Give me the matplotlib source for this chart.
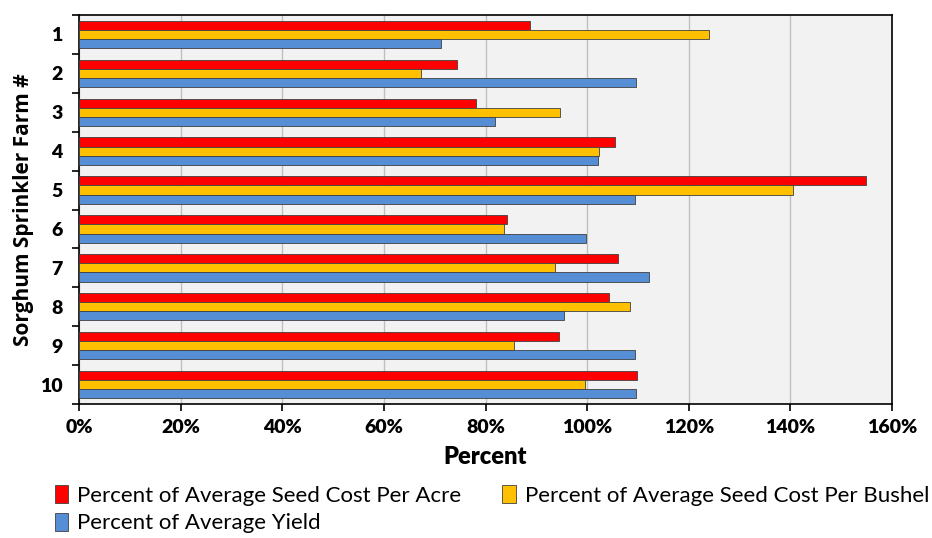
import matplotlib
matplotlib.use("Agg")
import matplotlib.pyplot as plt
import numpy as np
from matplotlib.ticker import FuncFormatter, FixedLocator

farms = ["1", "2", "3", "4", "5", "6", "7", "8", "9", "10"]
seed_cost_acre = [88.7, 74.4, 78.1, 105.4, 154.9, 84.2, 106.0, 104.4, 94.5, 109.8]
seed_cost_bushel = [123.9, 67.4, 94.7, 102.3, 140.6, 83.7, 93.7, 108.5, 85.6, 99.6]
avg_yield = [71.2, 109.6, 81.9, 102.1, 109.4, 99.8, 112.2, 95.4, 109.4, 109.6]
series_names = ["Percent of Average Seed Cost Per Acre",
                "Percent of Average Seed Cost Per Bushel",
                "Percent of Average Yield"]
colors = ["#FF0000", "#FFC000", "#558ED5"]
xticks = [0, 20, 40, 60, 80, 100, 120, 140, 160]

cond = ["Lato", "DejaVu Sans"]

fig = plt.figure(figsize=(9.32, 5.38), dpi=100)
ax = fig.add_axes([79/932, 1-404/538, (892-79)/932, (404-15)/538])
ax.set_facecolor("#F2F2F2")

y = np.arange(len(farms))
h = 0.235
data = [seed_cost_acre, seed_cost_bushel, avg_yield]
bars = []
for i, (vals, c, name) in enumerate(zip(data, colors, series_names)):
    b = ax.barh(y + (i - 1) * h, vals, height=h, color=c, edgecolor="#404040",
                linewidth=0.6, label=name, zorder=3)
    bars.append(b)

ax.set_ylim(len(farms) - 0.5, -0.5)
ax.set_xlim(0, 160)
ax.set_xticks(xticks)
ax.xaxis.set_major_formatter(FuncFormatter(lambda v, p: f"{int(v)}%"))
ax.set_yticks(y)
ax.set_yticklabels(farms)
ax.yaxis.set_minor_locator(FixedLocator(np.arange(-0.5, len(farms), 1)))
ax.tick_params(axis="y", which="major", length=0, pad=12)
ax.tick_params(axis="y", which="minor", length=5, width=1.2, direction="out")
ax.tick_params(axis="x", which="major", length=5, width=1.2, direction="out", pad=6)
for lab in ax.get_xticklabels() + ax.get_yticklabels():
    lab.set_family(cond)
    lab.set_fontweight("heavy")
    lab.set_fontsize(14)

ax.grid(axis="x", color="#BFBFBF", linewidth=1.0, zorder=0)
for s in ax.spines.values():
    s.set_color("black")
    s.set_linewidth(1.2)

ax.set_xlabel("Percent", fontsize=17, fontweight="heavy", family=cond, labelpad=7)
ax.set_ylabel("Sorghum Sprinkler Farm #", fontsize=15, fontweight="bold",
              family=["Open Sans", "DejaVu Sans"], labelpad=4)

handles = [bars[0], bars[2], bars[1]]
labels = [series_names[0], series_names[2], series_names[1]]
leg = fig.legend(handles, labels, ncol=2, loc="upper left",
                 bbox_to_anchor=(55/932, 1-485/538), frameon=False,
                 prop={"family": cond, "size": 16},
                 handlelength=0.6, handleheight=0.85, handletextpad=0.4,
                 columnspacing=1.85, labelspacing=0.33, borderpad=0,
                 borderaxespad=0)

fig.savefig("out.png", dpi=100)
